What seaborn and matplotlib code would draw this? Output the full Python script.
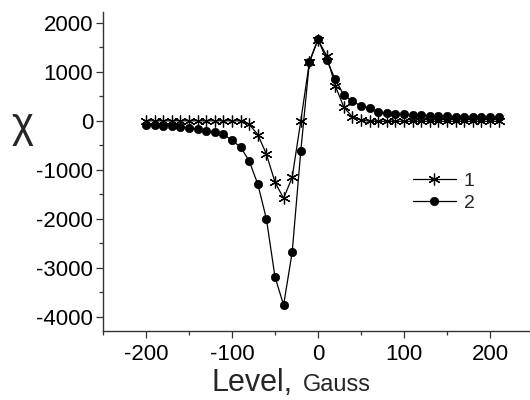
import matplotlib
matplotlib.use("Agg")
import matplotlib.pyplot as plt
import seaborn as sns
import pandas as pd

level = list(range(-200, 220, 10))
series1 = [0, 0, 0, 0, 0, 0, 0, 0, 0, 0, 0, 0,
           -70, -280, -680, -1250, -1580, -1150, 0, 1200, 1650, 1330, 720, 280, 80, 20,
           -10, -10, -10, -10, -10, -10, -10, -10, -10, -10, -10, -10, -10, -10, -10, -10]
series2 = [-90, -90, -105, -105, -125, -145, -170, -210, -230, -270, -400, -535,
           -820, -1290, -2000, -3185, -3755, -2675, -615, 1200, 1670, 1240, 850, 525,
           405, 300, 260, 180, 150, 140, 130, 120, 110, 100, 95, 90, 85, 80, 75, 72, 70, 70]
labels = ["1", "2"]
xticks = [-200, -100, 0, 100, 200]
yticks = [-4000, -3000, -2000, -1000, 0, 1000, 2000]

sns.set_theme(style="ticks")
plt.rcParams["font.family"] = ["Liberation Sans", "DejaVu Sans"]

W, H = 530, 400
fig = plt.figure(figsize=(W / 100, H / 100), dpi=100)
ax = fig.add_axes([103 / W, (H - 331) / H, 430 / W, (331 - 11.7) / H])

df1 = pd.DataFrame({"x": level, "y": series1})
df2 = pd.DataFrame({"x": level, "y": series2})

sns.lineplot(data=df2, x="x", y="y", ax=ax, color="black", lw=0.9,
             marker="o", markersize=6, mfc="black", mec="black", mew=0.5,
             label=labels[1], zorder=2)
sns.lineplot(data=df1, x="x", y="y", ax=ax, color="black", lw=0.9,
             marker=(6, 2, 0), markersize=8.5, mfc="black", mec="black", mew=0.9,
             label=labels[0], zorder=3)

ax.set_xlim(-250, 250)
ax.set_ylim(-4285, 2225)
ax.set_xticks(xticks)
ax.set_yticks(yticks)
ax.set_xticks([-250, -150, -50, 50, 150, 250], minor=True)
ax.set_yticks([-3500, -2500, -1500, -500, 500, 1500], minor=True)
ax.set_xticklabels([str(v) for v in xticks])
ax.set_yticklabels([str(v) for v in yticks])
ax.tick_params(axis="both", which="major", direction="out", length=5, width=0.9,
               labelsize=16, color="#333333", labelcolor="black")
ax.tick_params(axis="x", which="major", pad=4)
ax.tick_params(axis="y", which="major", pad=2)
ax.tick_params(axis="both", which="minor", direction="out", length=3, width=0.9,
               color="#333333")
for s in ["top", "right"]:
    ax.spines[s].set_visible(False)
for s in ["left", "bottom"]:
    ax.spines[s].set_color("#333333")
    ax.spines[s].set_linewidth(1.0)
ax.set_xlabel("")
ax.set_ylabel("")

# axis titles
fig.text(212 / W, (H - 391) / H, "Level,", fontsize=22, ha="left", va="baseline")
fig.text(303 / W, (H - 391) / H, "Gauss", fontsize=17, ha="left", va="baseline")
fig.text(12 / W, (H - 126) / H, "χ", fontsize=30, ha="left", va="center")

handles, labs = ax.get_legend_handles_labels()
order = [labs.index("1"), labs.index("2")]
leg = ax.legend([handles[i] for i in order], [labs[i] for i in order],
                loc="upper left", bbox_to_anchor=(413 / W, 1 - 172 / H),
                bbox_transform=fig.transFigure, frameon=False, fontsize=14,
                handlelength=2.2, handletextpad=0.4, labelspacing=0.25,
                borderpad=0, borderaxespad=0)

fig.savefig("out.png", dpi=100)
